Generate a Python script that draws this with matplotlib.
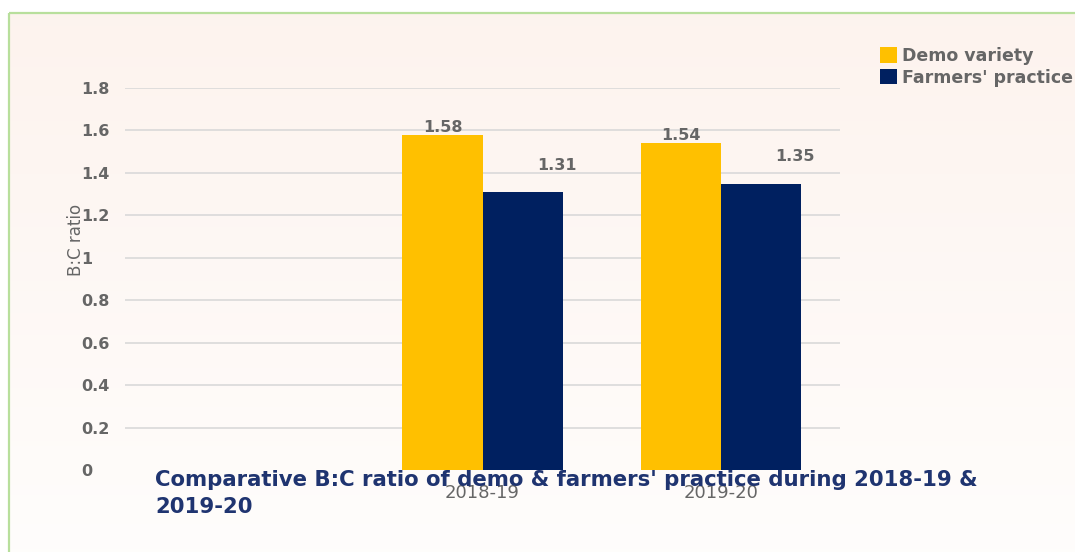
import matplotlib
matplotlib.use("Agg")
import matplotlib.pyplot as plt
from matplotlib.patches import Rectangle
import numpy as np

# Dữ liệu
categories = ["", "2018-19", "2019-20"]
demo_variety = [np.nan, 1.58, 1.54]
farmers_practice = [np.nan, 1.31, 1.35]
y_ticks = [0, 0.2, 0.4, 0.6, 0.8, 1, 1.2, 1.4, 1.6, 1.8]
y_tick_labels = ["0", "0.2", "0.4", "0.6", "0.8", "1", "1.2", "1.4", "1.6", "1.8"]

COL_DEMO = "#ffc000"
COL_FARM = "#002060"
COL_TEXT = "#666666"
COL_TITLE = "#1f3470"

W, H = 1075, 552
fig = plt.figure(figsize=(W / 100, H / 100), dpi=100)
fig.patch.set_facecolor("white")

# Nền chuyển màu + khung viền xanh
bg = fig.add_axes([0, 0, 1, 1], zorder=-10)
bg.set_xlim(0, W)
bg.set_ylim(H, 0)
bg.axis("off")
grad = np.linspace(0, 1, 256).reshape(-1, 1)
top_c = np.array([0.992, 0.953, 0.933])
bot_c = np.array([1.0, 0.996, 0.992])
img = top_c + (bot_c - top_c) * grad[..., None]
bg.imshow(img, extent=[9, W + 50, H + 50, 13], aspect="auto", zorder=0)
bg.add_patch(Rectangle((9, 13), W + 100, H + 100, fill=False, edgecolor="#b8df9c",
                       linewidth=1.6, zorder=1))

ax = fig.add_axes([125 / W, 1 - 470 / H, (840 - 125) / W, (470 - 88) / H])
ax.set_facecolor("none")

x = np.arange(len(categories))
width = 0.336
bars1 = ax.bar(x - width / 2, demo_variety, width, color=COL_DEMO, label="Demo variety", zorder=3)
bars2 = ax.bar(x + width / 2, farmers_practice, width, color=COL_FARM, label="Farmers' practice", zorder=3)

# Nhãn giá trị
for xi, v in zip(x, demo_variety):
    if not np.isnan(v):
        ax.text(xi - width / 2, v + 0.0, f"{v:.2f}", ha="center", va="bottom",
                fontsize=11.5, fontweight="bold", color=COL_TEXT, clip_on=False)
for xi, v in zip(x, farmers_practice):
    if not np.isnan(v):
        ax.text(xi + width / 2 + 0.145, v + 0.09, f"{v:.2f}", ha="center", va="bottom",
                fontsize=11.5, fontweight="bold", color=COL_TEXT, clip_on=False)

ax.set_xlim(-0.5, 2.5)
ax.set_ylim(0, 1.8)
ax.set_yticks(y_ticks)
ax.set_yticklabels(y_tick_labels, fontsize=11.5, fontweight="bold", color=COL_TEXT)
for lbl in ax.get_yticklabels():
    lbl.set_horizontalalignment("left")
ax.tick_params(axis="y", length=0, pad=31.7)
for t in y_ticks[1:]:
    ax.axhline(t, color="#d9d9d9", linewidth=1.2, zorder=1)

ax.set_xticks(x)
ax.set_xticklabels(categories, fontsize=13, color=COL_TEXT)
ax.tick_params(axis="x", length=0, pad=10)
for s in ax.spines.values():
    s.set_visible(False)

fig.text(76 / W, 1 - 240 / H, "B:C ratio", rotation=90, ha="center", va="center",
         fontsize=12, color=COL_TEXT)

fig.legend(loc="upper left", bbox_to_anchor=(873 / W, 1 - 40 / H), frameon=False,
           prop={"size": 12.5, "weight": "bold"}, labelcolor=COL_TEXT,
           handlelength=0.98, handleheight=0.98, handletextpad=0.3, labelspacing=0.22,
           borderaxespad=0)

fig.text(155 / W, 1 - 470 / H,
         "Comparative B:C ratio of demo & farmers' practice during 2018-19 &\n2019-20",
         ha="left", va="top", fontsize=15.3, fontweight="bold", color=COL_TITLE,
         linespacing=1.45)

fig.savefig("out.png", dpi=100, facecolor=fig.get_facecolor())
